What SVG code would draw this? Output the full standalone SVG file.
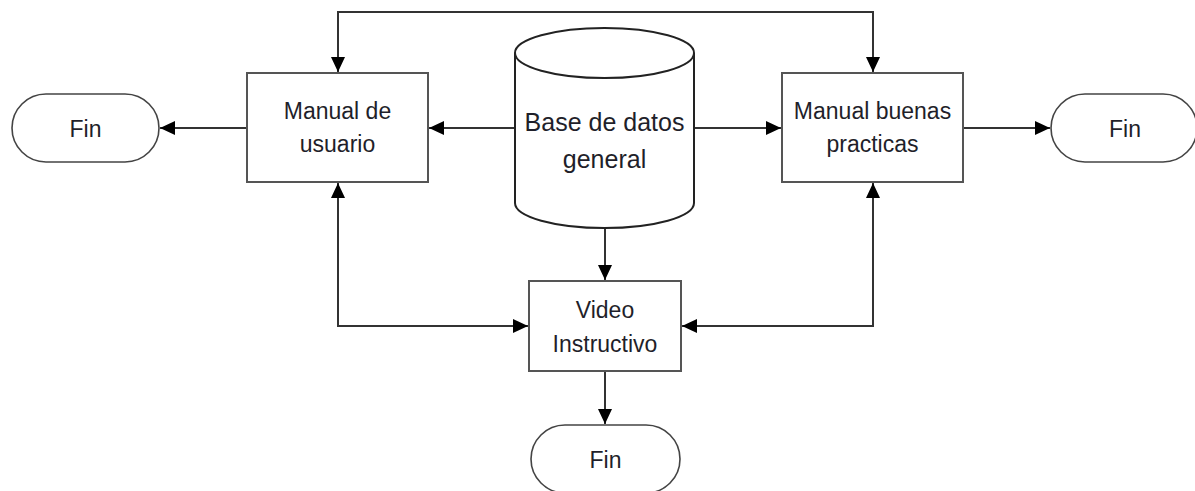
<svg xmlns="http://www.w3.org/2000/svg" width="1195" height="491" viewBox="0 0 1195 491">
<style>
  .box { fill: #ffffff; stroke: #555555; stroke-width: 2; }
  .term { fill: #ffffff; stroke: #444444; stroke-width: 1.6; }
  .cyl { fill: #ffffff; stroke: #222222; stroke-width: 2; }
  .t { font-family: "Liberation Sans", Arial, sans-serif; font-size: 23px; fill: #1f1f2a; text-anchor: middle; }
  .tb { font-family: "Liberation Sans", Arial, sans-serif; font-size: 25px; fill: #1f1f2a; text-anchor: middle; }
  .c { fill: none; stroke: #333333; stroke-width: 2; }
</style>
<defs>
  <marker id="ah" markerUnits="userSpaceOnUse" markerWidth="15" markerHeight="14" refX="15" refY="7" orient="auto-start-reverse">
    <path d="M0,0 L15,7 L0,14 z" fill="#000000"/>
  </marker>
</defs>
<rect width="1195" height="491" fill="#ffffff"/>
<g id="connectors">
  <path class="c" d="M338,72 V12 H873 V72" marker-start="url(#ah)" marker-end="url(#ah)"/>
  <path class="c" d="M247,128 H160" marker-end="url(#ah)"/>
  <path class="c" d="M515,128 H429" marker-end="url(#ah)"/>
  <path class="c" d="M694,128 H781" marker-end="url(#ah)"/>
  <path class="c" d="M963,128 H1050" marker-end="url(#ah)"/>
  <path class="c" d="M605,228 V280" marker-end="url(#ah)"/>
  <path class="c" d="M338,183 V326 H528" marker-start="url(#ah)" marker-end="url(#ah)"/>
  <path class="c" d="M873,183 V326 H682" marker-start="url(#ah)" marker-end="url(#ah)"/>
  <path class="c" d="M605,371 V424" marker-end="url(#ah)"/>
</g>
<g id="fin-left">
  <rect class="term" x="12" y="94" width="147" height="68" rx="34" ry="34"/>
  <text class="t" x="85.5" y="137">Fin</text>
</g>
<g id="manual-usuario">
  <rect class="box" x="247" y="73" width="181" height="109"/>
  <text class="t" x="337.5" y="119">Manual de</text>
  <text class="t" x="337.5" y="152">usuario</text>
</g>
<g id="base-datos">
  <path class="cyl" d="M515,53 V203 A89.5,25 0 0 0 694,203 V53"/>
  <ellipse class="cyl" cx="604.5" cy="53" rx="89.5" ry="25"/>
  <text class="tb" x="604.5" y="131">Base de datos</text>
  <text class="tb" x="604.5" y="168">general</text>
</g>
<g id="manual-buenas">
  <rect class="box" x="782" y="73" width="181" height="109"/>
  <text class="t" x="872.5" y="119">Manual buenas</text>
  <text class="t" x="872.5" y="152">practicas</text>
</g>
<g id="fin-right">
  <rect class="term" x="1051" y="94" width="146" height="68" rx="34" ry="34"/>
  <text class="t" x="1125" y="137">Fin</text>
</g>
<g id="video">
  <rect class="box" x="529" y="281" width="152" height="90"/>
  <text class="t" x="605" y="318">Video</text>
  <text class="t" x="605" y="352">Instructivo</text>
</g>
<g id="fin-bottom">
  <rect class="term" x="531" y="425" width="149" height="68" rx="34" ry="34"/>
  <text class="t" x="605.5" y="468">Fin</text>
</g>
</svg>
